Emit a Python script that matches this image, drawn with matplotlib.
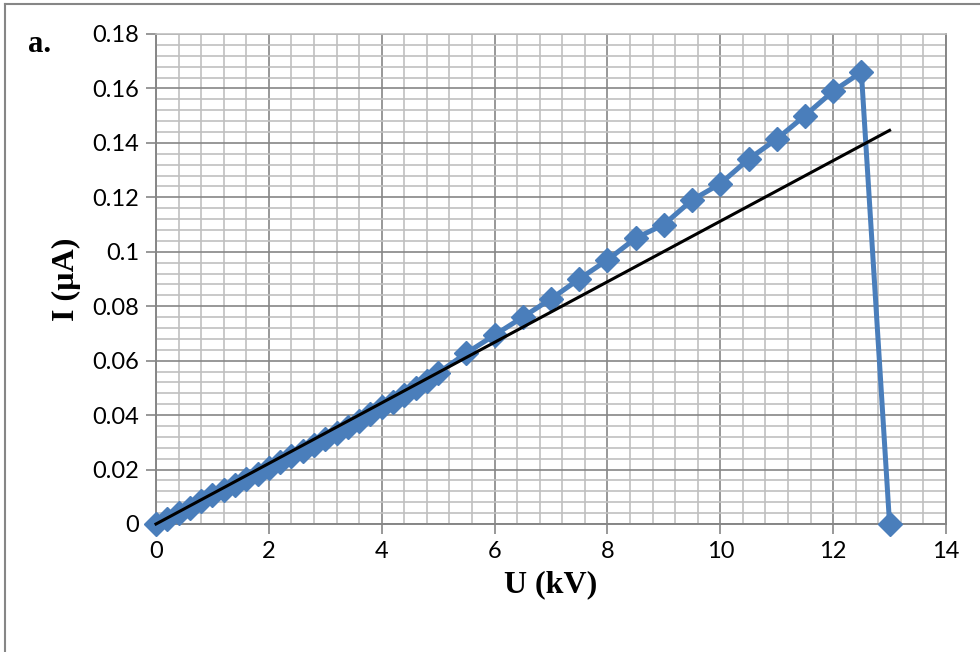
import numpy as np
import matplotlib.pyplot as plt
from matplotlib.lines import Line2D
from matplotlib.ticker import MultipleLocator

# measured current vs. applied voltage
voltage_kv = [0, 0.2, 0.4, 0.6, 0.8, 1.0, 1.2, 1.4, 1.6, 1.8, 2.0,
              2.2, 2.4, 2.6, 2.8, 3.0, 3.2, 3.4, 3.6, 3.8, 4.0,
              4.2, 4.4, 4.6, 4.8, 5.0,
              5.5, 6.0, 6.5, 7.0, 7.5, 8.0, 8.5, 9.0, 9.5, 10.0,
              10.5, 11.0, 11.5, 12.0, 12.5, 13.0]
current_ua = [0, 0.0020, 0.0040, 0.0060, 0.0083, 0.0105, 0.0125, 0.0145, 0.0165, 0.0185, 0.0205,
              0.0227, 0.0248, 0.0270, 0.0290, 0.0313, 0.0335, 0.0358, 0.0380, 0.0405, 0.0428,
              0.0450, 0.0475, 0.0500, 0.0527, 0.0555,
              0.0628, 0.0694, 0.0760, 0.0827, 0.0900, 0.0970, 0.1050, 0.1100, 0.1190, 0.1250,
              0.1340, 0.1414, 0.1500, 0.1590, 0.1660, 0.0]

# linear (ohmic) reference line
fit_u = [0, 13.0]
fit_i = [0, 0.1446]

BLUE = "#4a7ebb"
MAJ = "#868686"
MIN = "#c0c0c0"


def main():
    fig = plt.figure(figsize=(9.8, 6.52), dpi=100)
    ax = fig.add_axes([156 / 980, 1 - 524 / 652, (946 - 156) / 980, (524 - 34) / 652])

    # markers at the axis edges are drawn whole, not clipped
    ax.plot(voltage_kv, current_ua, color=BLUE, lw=3.6, marker="D",
            markersize=12, markeredgecolor=BLUE, zorder=3, clip_on=False)
    ax.plot(fit_u, fit_i, color="black", lw=2.2, zorder=4, clip_on=False)

    ax.set_xlim(0, 14)
    ax.set_ylim(0, 0.18)
    ax.xaxis.set_major_locator(MultipleLocator(2))
    ax.xaxis.set_minor_locator(MultipleLocator(0.4))
    ax.yaxis.set_minor_locator(MultipleLocator(0.004))
    ax.set_yticks(np.arange(0, 0.181, 0.02))
    ax.set_yticklabels(["0", "0.02", "0.04", "0.06", "0.08", "0.1",
                        "0.12", "0.14", "0.16", "0.18"])

    ax.grid(which="major", color=MAJ, lw=1.2, zorder=1)
    ax.grid(which="minor", color=MIN, lw=1.2, zorder=0)
    ax.set_axisbelow(True)

    for side in ("left", "bottom", "right"):
        ax.spines[side].set_color(MAJ)
        ax.spines[side].set_linewidth(1.4)
    ax.spines["top"].set_color(MIN)
    ax.spines["top"].set_linewidth(1.2)

    ax.tick_params(which="major", length=7, width=1.2, color=MAJ,
                   labelsize=17, pad=5)
    ax.tick_params(which="minor", length=0)
    for lbl in ax.get_xticklabels() + ax.get_yticklabels():
        lbl.set_fontfamily("Lato")

    ax.set_xlabel("U (kV)", fontsize=23, fontweight="bold",
                  family="Liberation Serif", labelpad=6)
    ax.set_ylabel("I (\u00b5A)", fontsize=23, fontweight="bold",
                  family="Liberation Serif", labelpad=8)

    fig.text(28 / 980, 1 - 44 / 652, "a.", fontsize=22, fontweight="bold",
             family="Liberation Serif", va="center", ha="left")

    # outer chart frame
    fig.add_artist(Line2D([5 / 980, 5 / 980], [0, 1 - 4 / 652], transform=fig.transFigure,
                          color=MAJ, lw=1.5))
    fig.add_artist(Line2D([5 / 980, 1], [1 - 4 / 652, 1 - 4 / 652], transform=fig.transFigure,
                          color=MAJ, lw=1.5))

    plt.savefig("out.png", dpi=100)


if __name__ == '__main__':
    main()
